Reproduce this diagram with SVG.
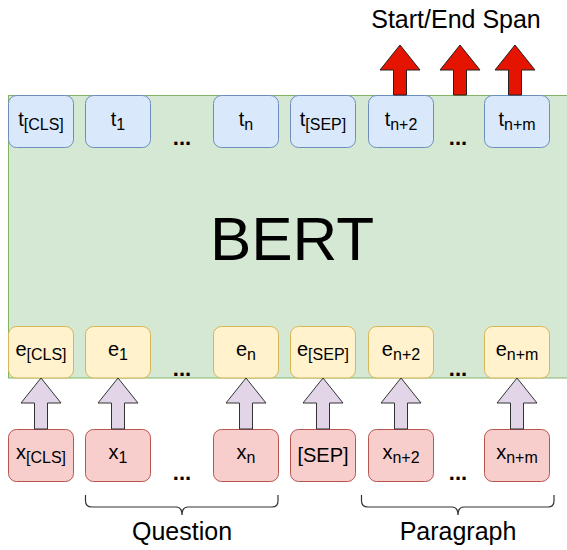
<svg xmlns="http://www.w3.org/2000/svg" width="567" height="550" viewBox="0 0 567 550">
  <style>
    text { font-family: "Liberation Sans", Arial, Helvetica, sans-serif; fill: #000; }
    .lbl { font-size: 20px; text-anchor: middle; }
    .sub { font-size: 16px; }
    .dots { font-size: 22px; font-weight: bold; text-anchor: middle; }
    .cap { font-size: 25px; text-anchor: middle; }
    .t { fill: #dae8fc; stroke: #6c8ebf; stroke-width: 1; }
    .e { fill: #fff2cc; stroke: #d6b656; stroke-width: 1; }
    .x { fill: #f8cecc; stroke: #b85450; stroke-width: 1; }
    .in { fill: #e1d5e7; stroke: #333; stroke-width: 1; }
    .out { fill: #e51400; stroke: #222; stroke-width: 1; }
    .brace { fill: none; stroke: #333; stroke-width: 1.2; }
  </style>

  <!-- encoder block -->
  <g id="bert">
    <rect x="8.5" y="95.5" width="570" height="282.5" fill="#d5e8d4" stroke="#82b366" stroke-width="1"/>
    <text x="292" y="260" font-size="62" text-anchor="middle">BERT</text>
  </g>

  <!-- output token vectors -->
  <g id="t_cls"><rect class="t" x="8.5" y="95.5" width="65" height="52" rx="8"/><text class="lbl" x="41" y="126">t<tspan class="sub" dy="4">[CLS]</tspan></text></g>
  <g id="t_1"><rect class="t" x="85.5" y="95.5" width="65" height="52" rx="8"/><text class="lbl" x="118" y="126">t<tspan class="sub" dy="4">1</tspan></text></g>
  <g id="t_n"><rect class="t" x="213.5" y="95.5" width="65" height="52" rx="8"/><text class="lbl" x="246" y="126">t<tspan class="sub" dy="4">n</tspan></text></g>
  <g id="t_sep"><rect class="t" x="290.5" y="95.5" width="65" height="52" rx="8"/><text class="lbl" x="323" y="126">t<tspan class="sub" dy="4">[SEP]</tspan></text></g>
  <g id="t_n2"><rect class="t" x="368.5" y="95.5" width="65" height="52" rx="8"/><text class="lbl" x="401" y="126">t<tspan class="sub" dy="4">n+2</tspan></text></g>
  <g id="t_nm"><rect class="t" x="484.5" y="95.5" width="65" height="52" rx="8"/><text class="lbl" x="517" y="126">t<tspan class="sub" dy="4">n+m</tspan></text></g>

  <!-- input embeddings -->
  <g id="e_cls"><rect class="e" x="8.5" y="326.5" width="65" height="51.5" rx="8"/><text class="lbl" x="41" y="356">e<tspan class="sub" dy="4">[CLS]</tspan></text></g>
  <g id="e_1"><rect class="e" x="85.5" y="326.5" width="65" height="51.5" rx="8"/><text class="lbl" x="118" y="356">e<tspan class="sub" dy="4">1</tspan></text></g>
  <g id="e_n"><rect class="e" x="213.5" y="326.5" width="65" height="51.5" rx="8"/><text class="lbl" x="246" y="356">e<tspan class="sub" dy="4">n</tspan></text></g>
  <g id="e_sep"><rect class="e" x="290.5" y="326.5" width="65" height="51.5" rx="8"/><text class="lbl" x="323" y="356">e<tspan class="sub" dy="4" font-size="14">[SEP]</tspan></text></g>
  <g id="e_n2"><rect class="e" x="368.5" y="326.5" width="65" height="51.5" rx="8"/><text class="lbl" x="401" y="356">e<tspan class="sub" dy="4">n+2</tspan></text></g>
  <g id="e_nm"><rect class="e" x="484.5" y="326.5" width="65" height="51.5" rx="8"/><text class="lbl" x="517" y="356">e<tspan class="sub" dy="4">n+m</tspan></text></g>

  <!-- input tokens -->
  <g id="x_cls"><rect class="x" x="8.5" y="429.5" width="65" height="52" rx="8"/><text class="lbl" x="41" y="459">x<tspan class="sub" dy="4">[CLS]</tspan></text></g>
  <g id="x_1"><rect class="x" x="85.5" y="429.5" width="65" height="52" rx="8"/><text class="lbl" x="118" y="459">x<tspan class="sub" dy="4">1</tspan></text></g>
  <g id="x_n"><rect class="x" x="213.5" y="429.5" width="65" height="52" rx="8"/><text class="lbl" x="246" y="459">x<tspan class="sub" dy="4">n</tspan></text></g>
  <g id="x_sep"><rect class="x" x="290.5" y="429.5" width="65" height="52" rx="8"/><text class="lbl" x="323" y="462">[SEP]</text></g>
  <g id="x_n2"><rect class="x" x="368.5" y="429.5" width="65" height="52" rx="8"/><text class="lbl" x="401" y="459">x<tspan class="sub" dy="4">n+2</tspan></text></g>
  <g id="x_nm"><rect class="x" x="484.5" y="429.5" width="65" height="52" rx="8"/><text class="lbl" x="517" y="459">x<tspan class="sub" dy="4">n+m</tspan></text></g>

  <!-- ellipses between tokens -->
  <g id="ellipses">
    <text class="dots" x="182" y="145">...</text>
    <text class="dots" x="458" y="145">...</text>
    <text class="dots" x="182" y="376">...</text>
    <text class="dots" x="458" y="376">...</text>
    <text class="dots" x="182" y="480">...</text>
    <text class="dots" x="458" y="480">...</text>
  </g>

  <!-- block arrows -->
  <g id="connectors">
    <path class="in" d="M41,378 L61,403 L47.5,403 L47.5,429 L34.5,429 L34.5,403 L21,403 Z"/>
    <path class="in" d="M118,378 L138,403 L124.5,403 L124.5,429 L111.5,429 L111.5,403 L98,403 Z"/>
    <path class="in" d="M246,378 L266,403 L252.5,403 L252.5,429 L239.5,429 L239.5,403 L226,403 Z"/>
    <path class="in" d="M323,378 L343,403 L329.5,403 L329.5,429 L316.5,429 L316.5,403 L303,403 Z"/>
    <path class="in" d="M401,378 L421,403 L407.5,403 L407.5,429 L394.5,429 L394.5,403 L381,403 Z"/>
    <path class="in" d="M517,378 L537,403 L523.5,403 L523.5,429 L510.5,429 L510.5,403 L497,403 Z"/>

    <path class="out" d="M400,45 L420,70 L406.5,70 L406.5,95 L393.5,95 L393.5,70 L380,70 Z"/>
    <path class="out" d="M460,45 L480,70 L466.5,70 L466.5,95 L453.5,95 L453.5,70 L440,70 Z"/>
    <path class="out" d="M515,45 L535,70 L521.5,70 L521.5,95 L508.5,95 L508.5,70 L495,70 Z"/>
  </g>

  <!-- output label -->
  <g id="span_label">
    <text class="cap" x="456" y="28">Start/End Span</text>
  </g>

  <!-- segment braces -->
  <g id="question">
    <path class="brace" d="M85.5,495 L85.5,501 Q85.5,507 92,507 L176,507 Q182,507 182,515 Q182,507 188,507 L272,507 Q278,507 278,501 L278,495"/>
    <text class="cap" x="182" y="540">Question</text>
  </g>
  <g id="paragraph">
    <path class="brace" d="M361.5,495 L361.5,501 Q361.5,507 368,507 L452,507 Q458,507 458,515 Q458,507 464,507 L548,507 Q554,507 554,501 L554,495"/>
    <text class="cap" x="458" y="540">Paragraph</text>
  </g>
</svg>
